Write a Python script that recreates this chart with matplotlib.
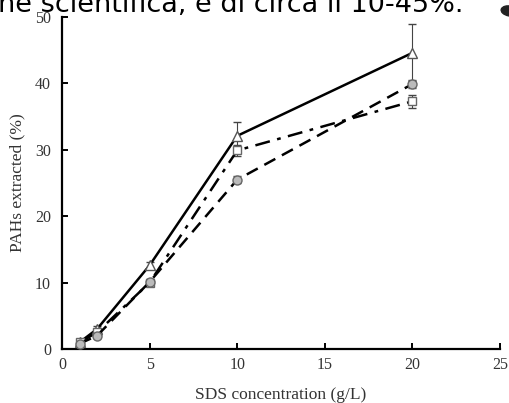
import matplotlib
matplotlib.use("Agg")
import matplotlib.pyplot as plt
from matplotlib.patches import Ellipse

# SDS concentration (g/L)
sds_conc = [1, 2, 5, 10, 20]

# PAHs extracted (%) for the three series
pahs_triangle = [1.0, 3.0, 12.6, 32.1, 44.6]
err_triangle = [0.3, 0.4, 0.5, 2.1, 4.3]
pahs_square = [1.0, 2.5, 10.0, 29.9, 37.3]
err_square = [0.3, 0.4, 0.4, 0.8, 1.0]
pahs_circle = [0.8, 2.0, 10.1, 25.5, 39.9]
err_circle = [0.2, 0.3, 0.4, 0.5, 0.6]

x_ticks = [0, 5, 10, 15, 20, 25]
y_ticks = [0, 10, 20, 30, 40, 50]

caption = "ne scientifica, è di circa il 10-45%."

SERIF = ["Liberation Serif", "DejaVu Serif"]

fig = plt.figure(figsize=(5.09, 4.03), dpi=100)
ax = fig.add_axes([62 / 509, 1 - 349 / 403, 438 / 509, 332 / 403])

ax.errorbar(sds_conc, pahs_triangle, yerr=err_triangle, color="black", lw=1.8,
            ls="-", marker="^", ms=7, mfc="white", mec="#555555", mew=1.0,
            ecolor="#444444", elinewidth=0.8, capsize=3, zorder=3)
ax.errorbar(sds_conc, pahs_square, yerr=err_square, color="black", lw=1.8,
            ls=(0, (6, 3, 1.5, 3)), marker="s", ms=5.5, mfc="white", mec="#666666",
            mew=1.0, ecolor="#444444", elinewidth=0.8, capsize=3, zorder=3)
ax.errorbar(sds_conc, pahs_circle, yerr=err_circle, color="black", lw=1.8,
            ls=(0, (5, 3)), marker="o", ms=6.5, mfc="#bbbbbb", mec="#666666",
            mew=1.0, ecolor="#444444", elinewidth=0.8, capsize=3, zorder=3)

ax.set_xlim(0, 25)
ax.set_ylim(0, 50)
ax.set_xticks(x_ticks)
ax.set_yticks(y_ticks)
for s in ["top", "right"]:
    ax.spines[s].set_visible(False)
for s in ["left", "bottom"]:
    ax.spines[s].set_linewidth(1.6)
ax.tick_params(direction="in", length=4, width=1.4, labelsize=11.5)
ax.tick_params(axis="y", pad=8)
ax.tick_params(axis="x", pad=6)
for lab in ax.get_xticklabels() + ax.get_yticklabels():
    lab.set_family(SERIF)
    lab.set_color("#333333")

ax.set_xlabel("SDS concentration (g/L)", family=SERIF, fontsize=12.5,
              color="#333333")
ax.set_ylabel("PAHs extracted (%)", family=SERIF, fontsize=12.5,
              color="#333333")
ax.xaxis.set_label_coords(0.5, -0.113)
ax.yaxis.set_label_coords(-0.084, 0.5)

# clipped caption text and dark shape at the top of the screenshot
fig.text(-0.004, 1 - 12 / 403, caption, fontsize=19.5, family="DejaVu Sans",
         va="baseline", ha="left", color="black")
fig.patches.append(Ellipse((510 / 509, 1 - 11 / 403), 18 / 509, 10 / 403,
                           angle=-15, transform=fig.transFigure, color="#222222"))

fig.savefig("out.png", dpi=100)
plt.close(fig)
